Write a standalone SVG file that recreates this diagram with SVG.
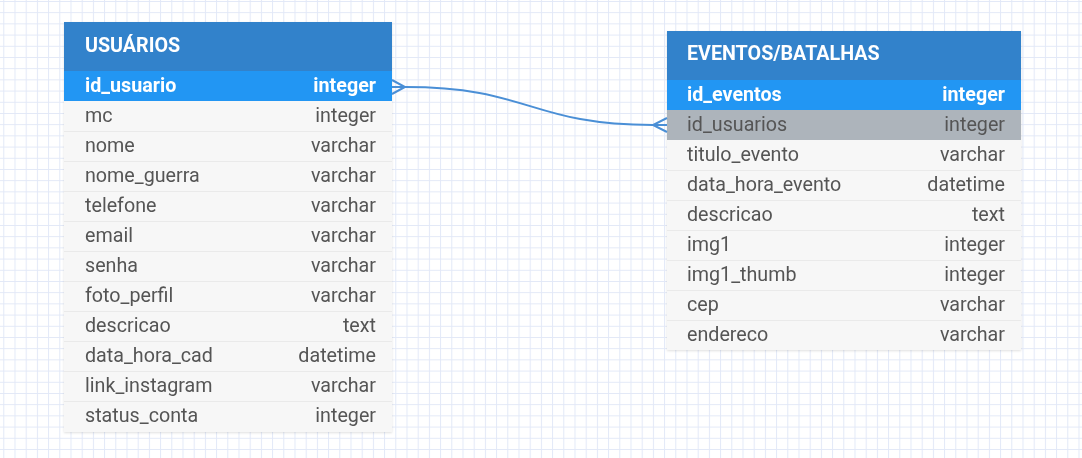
<svg xmlns="http://www.w3.org/2000/svg" width="1082" height="458" viewBox="0 0 1082 458">
<defs>
<pattern id="grid" x="3.3" y="1" width="11.2" height="11.2" patternUnits="userSpaceOnUse">
<path d="M0 0.5H11.2M0.5 0V11.2" fill="none" stroke="#e2e8f7" stroke-width="1"/>
</pattern>
<filter id="sh" x="-5%" y="-5%" width="110%" height="110%">
<feDropShadow dx="0" dy="1" stdDeviation="1" flood-color="#000" flood-opacity="0.12"/>
</filter>
</defs>
<style>
.hdr{fill:#3382cb}
.pk{fill:#2196f3}
.fk{fill:#adb4bb}
.row{fill:#f7f7f7}
.sep{stroke:#eaeaea;stroke-width:1}
.t{font-family:Roboto,"Liberation Sans",sans-serif;font-size:19.7px;fill:#555}
.th{font-family:Roboto,"Liberation Sans",sans-serif;font-size:19.7px;font-weight:bold;fill:#fff}
.tb{font-family:Roboto,"Liberation Sans",sans-serif;font-size:19.7px;font-weight:bold;fill:#fff}
.r{text-anchor:end}
.conn{fill:none;stroke:#4a8fd6;stroke-width:2}
</style>
<rect width="1082" height="458" fill="#fff"/>
<rect width="1082" height="458" fill="url(#grid)"/>

<g id="usuarios" filter="url(#sh)">
<rect class="row" x="64" y="22" width="328" height="410"/>
<rect class="hdr" x="64" y="22" width="328" height="49"/>
<text class="th" x="85" y="52">USUÁRIOS</text>
<rect class="pk" x="64" y="71" width="328" height="30"/>
<text class="tb" x="85" y="92">id_usuario</text><text class="tb r" x="376" y="92">integer</text>
<g>
<line class="sep" x1="64" y1="131.5" x2="392" y2="131.5"/>
<line class="sep" x1="64" y1="161.5" x2="392" y2="161.5"/>
<line class="sep" x1="64" y1="191.5" x2="392" y2="191.5"/>
<line class="sep" x1="64" y1="221.5" x2="392" y2="221.5"/>
<line class="sep" x1="64" y1="251.5" x2="392" y2="251.5"/>
<line class="sep" x1="64" y1="281.5" x2="392" y2="281.5"/>
<line class="sep" x1="64" y1="311.5" x2="392" y2="311.5"/>
<line class="sep" x1="64" y1="341.5" x2="392" y2="341.5"/>
<line class="sep" x1="64" y1="371.5" x2="392" y2="371.5"/>
<line class="sep" x1="64" y1="401.5" x2="392" y2="401.5"/>
</g>
<text class="t" x="85" y="122">mc</text><text class="t r" x="376" y="122">integer</text>
<text class="t" x="85" y="152">nome</text><text class="t r" x="376" y="152">varchar</text>
<text class="t" x="85" y="182">nome_guerra</text><text class="t r" x="376" y="182">varchar</text>
<text class="t" x="85" y="212">telefone</text><text class="t r" x="376" y="212">varchar</text>
<text class="t" x="85" y="242">email</text><text class="t r" x="376" y="242">varchar</text>
<text class="t" x="85" y="272">senha</text><text class="t r" x="376" y="272">varchar</text>
<text class="t" x="85" y="302">foto_perfil</text><text class="t r" x="376" y="302">varchar</text>
<text class="t" x="85" y="332">descricao</text><text class="t r" x="376" y="332">text</text>
<text class="t" x="85" y="362">data_hora_cad</text><text class="t r" x="376" y="362">datetime</text>
<text class="t" x="85" y="392">link_instagram</text><text class="t r" x="376" y="392">varchar</text>
<text class="t" x="85" y="422">status_conta</text><text class="t r" x="376" y="422">integer</text>
</g>

<g id="eventos" filter="url(#sh)">
<rect class="row" x="667" y="31" width="354" height="319"/>
<rect class="hdr" x="667" y="31" width="354" height="49"/>
<text class="th" x="687" y="60">EVENTOS/BATALHAS</text>
<rect class="pk" x="667" y="80" width="354" height="30"/>
<text class="tb" x="687" y="101">id_eventos</text><text class="tb r" x="1005" y="101">integer</text>
<rect class="fk" x="667" y="110" width="354" height="30"/>
<text class="t" x="687" y="131">id_usuarios</text><text class="t r" x="1005" y="131">integer</text>
<g>
<line class="sep" x1="667" y1="170.5" x2="1021" y2="170.5"/>
<line class="sep" x1="667" y1="200.5" x2="1021" y2="200.5"/>
<line class="sep" x1="667" y1="230.5" x2="1021" y2="230.5"/>
<line class="sep" x1="667" y1="260.5" x2="1021" y2="260.5"/>
<line class="sep" x1="667" y1="290.5" x2="1021" y2="290.5"/>
<line class="sep" x1="667" y1="320.5" x2="1021" y2="320.5"/>
</g>
<text class="t" x="687" y="161">titulo_evento</text><text class="t r" x="1005" y="161">varchar</text>
<text class="t" x="687" y="191">data_hora_evento</text><text class="t r" x="1005" y="191">datetime</text>
<text class="t" x="687" y="221">descricao</text><text class="t r" x="1005" y="221">text</text>
<text class="t" x="687" y="251">img1</text><text class="t r" x="1005" y="251">integer</text>
<text class="t" x="687" y="281">img1_thumb</text><text class="t r" x="1005" y="281">integer</text>
<text class="t" x="687" y="311">cep</text><text class="t r" x="1005" y="311">varchar</text>
<text class="t" x="687" y="341">endereco</text><text class="t r" x="1005" y="341">varchar</text>
</g>

<g id="connectors">
<path class="conn" d="M392 87H405C530 87 530 125 653 125H667"/>
<path class="conn" d="M392 80L405 87L392 94"/>
<path class="conn" d="M667 118L653 125L667 132"/>
</g>
</svg>
